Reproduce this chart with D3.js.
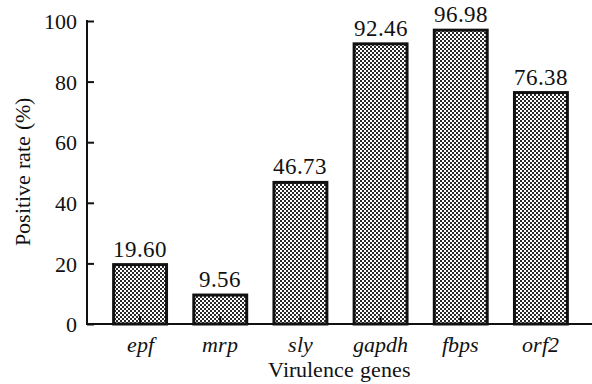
<!DOCTYPE html>
<html><head><meta charset="utf-8">
<script src="https://cdn.jsdelivr.net/npm/d3@7"></script>
<style>
@font-face{font-family:"RefSerif";src:local("Liberation Serif"),local("LiberationSerif-Regular"),local("Tinos");font-style:normal;}
@font-face{font-family:"RefSerif";src:local("Liberation Serif Italic"),local("LiberationSerif-Italic");font-style:italic;}
body{margin:0;background:#fff}
.t{font-family:"RefSerif","Liberation Serif",serif;}
</style>
</head><body>
<svg id="c" width="592" height="384"></svg>
<script>
const genes = ["epf","mrp","sly","gapdh","fbps","orf2"];
const rates = [19.60, 9.56, 46.73, 92.46, 96.98, 76.38];
const labels = ["19.60","9.56","46.73","92.46","96.98","76.38"];
const yTicks = [0,20,40,60,80,100];

const FF = '"RefSerif","Liberation Serif",serif';
const svg = d3.select("#c");
const defs = svg.append("defs");
const pat = defs.append("pattern").attr("id","chk").attr("patternUnits","userSpaceOnUse")
  .attr("width",4).attr("height",4);
pat.append("rect").attr("width",4).attr("height",4).attr("fill","#fff");
pat.append("rect").attr("width",2).attr("height",2).attr("fill","#2a2a2a");
pat.append("rect").attr("x",2).attr("y",2).attr("width",2).attr("height",2).attr("fill","#2a2a2a");

const x0 = 87;
const x = d3.scaleBand().domain(genes).range([100,581]).paddingInner(0.34).paddingOuter(0.17);
const y = d3.scaleLinear().domain([0,100]).range([324,21]);

// bars
svg.selectAll("rect.bar").data(genes).join("rect").attr("class","bar")
  .attr("x", d=>x(d)).attr("width", x.bandwidth())
  .attr("y", (d,i)=>y(rates[i])).attr("height",(d,i)=>y(0)-y(rates[i]))
  .attr("fill","url(#chk)").attr("stroke","#111").attr("stroke-width",3);

// value labels
svg.selectAll("text.val").data(genes).join("text").attr("class","val t")
  .attr("x", d=>x(d)+x.bandwidth()/2).attr("y",(d,i)=>y(rates[i])-8)
  .attr("text-anchor","middle").attr("fill","#111").style("font-family",FF).style("font-size","23px")
  .text((d,i)=>labels[i]);

// y axis
const ya = svg.append("g").attr("transform",`translate(${x0},0)`)
  .call(d3.axisLeft(y).tickValues(yTicks).tickSize(-7).tickPadding(10));
ya.attr("font-family",null).attr("font-size",null);
ya.select(".domain").remove();
ya.selectAll(".tick line").attr("stroke","#111").attr("stroke-width",2);
ya.selectAll(".tick text").attr("class","t").style("font-family",FF).style("font-size","22px").attr("fill","#111").attr("dy","0.35em");
svg.append("line").attr("x1",x0).attr("x2",x0).attr("y1",y(100)-1).attr("y2",y(0)+1).attr("stroke","#111").attr("stroke-width",2);

// x axis
const xa = svg.append("g").attr("transform",`translate(0,${y(0)})`)
  .call(d3.axisBottom(x).tickSize(-8).tickPadding(12));
xa.attr("font-family",null).attr("font-size",null);
xa.select(".domain").remove();
xa.selectAll(".tick line").attr("stroke","#111").attr("stroke-width",2);
xa.selectAll(".tick text").attr("class","t").style("font-family",FF).style("font-size","22px").style("font-style","italic").attr("fill","#111");
svg.append("line").attr("x1",x0).attr("x2",592).attr("y1",y(0)).attr("y2",y(0)).attr("stroke","#111").attr("stroke-width",2);

// axis titles
svg.append("text").attr("class","t").attr("x",339).attr("y",377).attr("text-anchor","middle")
  .style("font-family",FF).style("font-size","22px").attr("fill","#111").text("Virulence genes");
svg.append("text").attr("class","t").attr("transform",`translate(30,172) rotate(-90)`).attr("text-anchor","middle")
  .style("font-family",FF).style("font-size","22px").attr("fill","#111").text("Positive rate (%)");
</script>
</body></html>
